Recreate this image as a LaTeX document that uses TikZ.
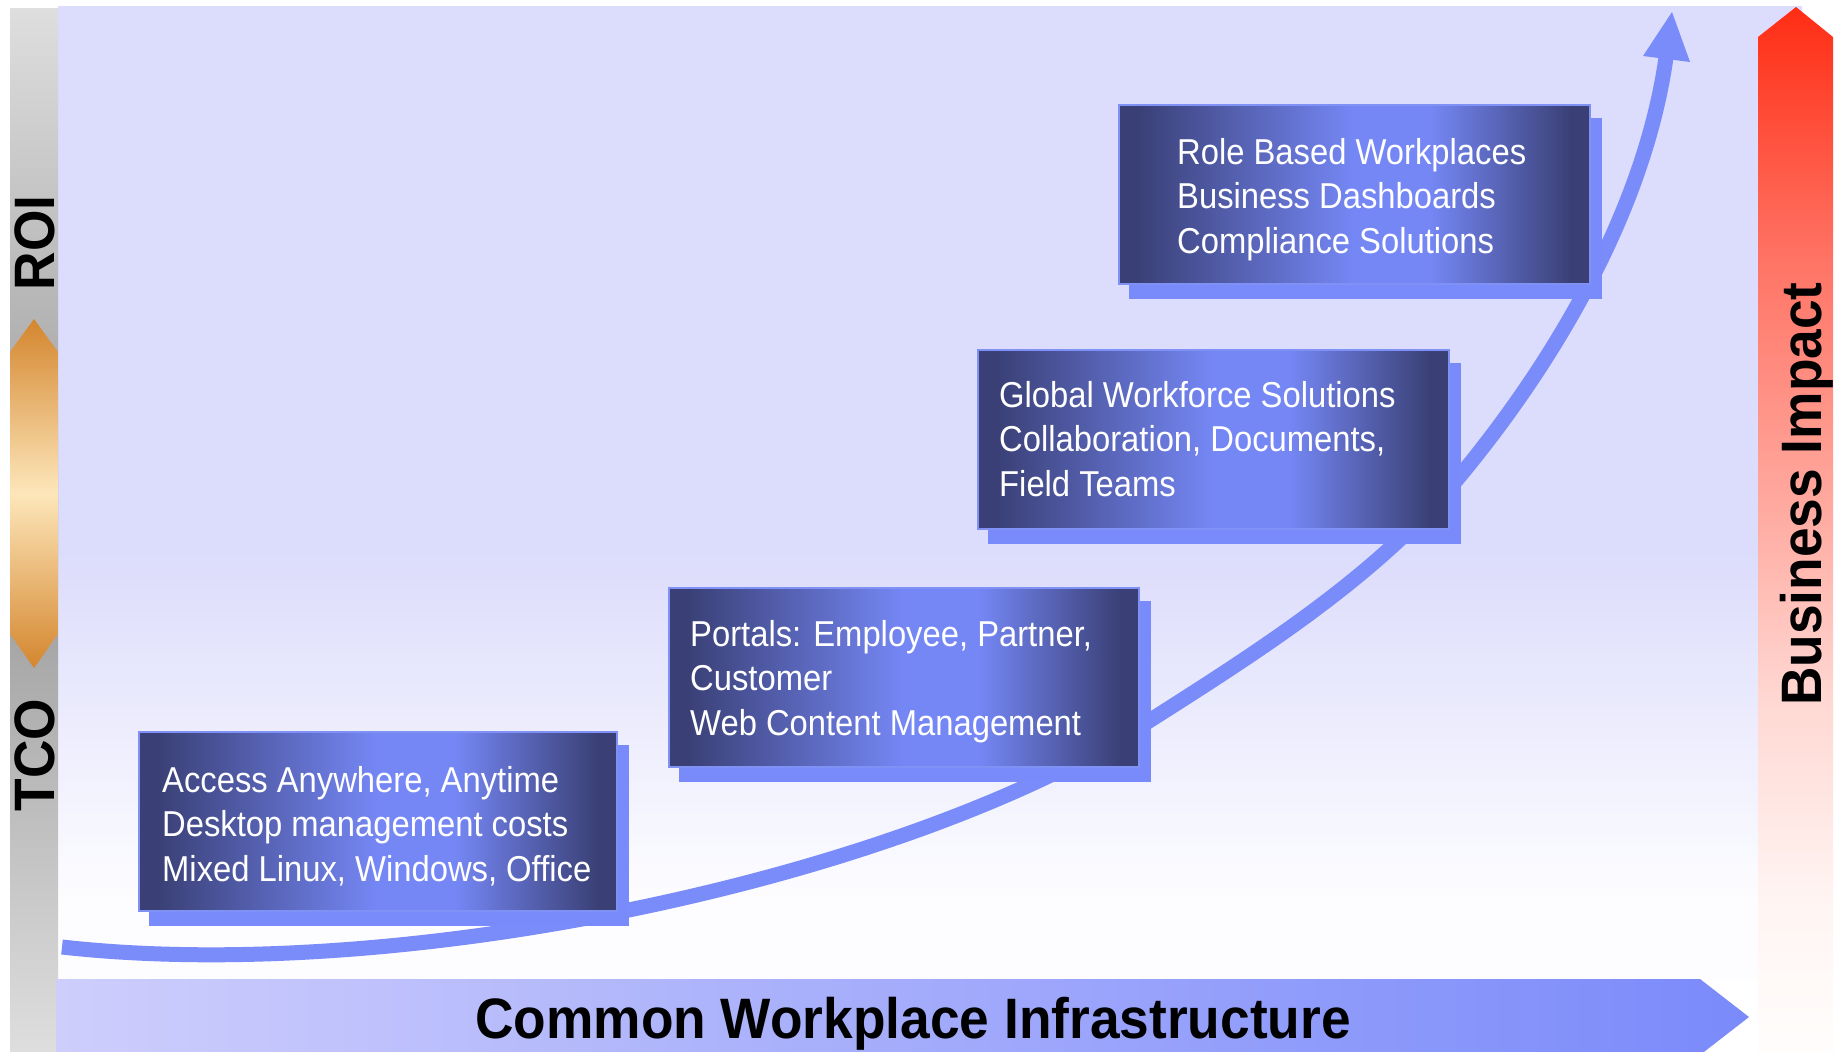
\documentclass[tikz,border=0pt]{standalone}
\usepackage{fontspec}
\setmainfont{Liberation Sans}[FakeStretch=0.91]
\newfontfamily\labelfont{Liberation Sans}[FakeStretch=0.935]
\usetikzlibrary{calc}
\definecolor{lav}{RGB}{220,220,252}
\definecolor{nearwhite}{RGB}{253,253,255}
\definecolor{bdark}{RGB}{58,64,118}
\definecolor{blight}{RGB}{117,135,245}
\definecolor{bord}{RGB}{128,145,245}
\definecolor{shad}{RGB}{121,138,250}
\definecolor{curvec}{RGB}{122,139,250}
\definecolor{arrL}{RGB}{206,206,252}
\definecolor{arrR}{RGB}{122,138,250}
\definecolor{grayL}{RGB}{222,222,222}
\definecolor{grayD}{RGB}{152,152,152}
\definecolor{orng}{RGB}{212,134,46}
\definecolor{pale}{RGB}{253,230,186}
\definecolor{rA}{RGB}{255,253,252}
\definecolor{rB}{RGB}{255,245,243}
\definecolor{rC}{RGB}{255,215,210}
\definecolor{rD}{RGB}{255,170,160}
\definecolor{rE}{RGB}{255,115,100}
\definecolor{rF}{RGB}{255,45,20}
\pgfdeclarehorizontalshading{boxshade}{100bp}{color(0bp)=(bdark); color(27bp)=(bdark); color(50bp)=(blight); color(58bp)=(blight); color(73bp)=(bdark); color(100bp)=(bdark)}
\pgfdeclareverticalshading{panelshade}{100bp}{color(0bp)=(nearwhite); color(29bp)=(nearwhite); color(47bp)=(lav); color(100bp)=(lav)}
\pgfdeclareverticalshading{redshade}{100bp}{color(0bp)=(rA); color(25bp)=(rA); color(32bp)=(rB); color(42bp)=(rC); color(51bp)=(rD); color(63bp)=(rE); color(75bp)=(rF); color(100bp)=(rF)}
\pgfdeclarelayer{bglayer}
\pgfdeclarelayer{shadowlayer}
\pgfsetlayers{bglayer,shadowlayer,main}
\tikzset{
  infobox/.style={rectangle, draw=bord, line width=1.5pt, shade, shading=boxshade,
    minimum width=#1, minimum height=179pt, inner sep=0pt, anchor=north west},
  boxtext/.style={anchor=base west, align=left, text=white, inner sep=0pt,
    font=\fontsize{36}{44.5}\selectfont},
  biglabel/.style={inner sep=0pt, font=\fontsize{57}{60}\labelfont\bfseries, text=black},
  shadowfill/.style={fill=shad},
  curvearrow/.style={draw=curvec, line width=15pt},
}
\begin{document}
\begin{tikzpicture}[x=1pt,y=-1pt]
\useasboundingbox (0,0) rectangle (1839,1052);
\begin{pgfonlayer}{bglayer}
\fill[white] (0,0) rectangle (1839,1052);
% background panel
\shade[shading=panelshade] (58,6) rectangle (1802,980);
% left gray bar and ROI/TCO double arrow
\shade[top color=grayL, bottom color=grayL, middle color=grayD] (10,8) rectangle (58,1052);
\shade[top color=orng, bottom color=orng, middle color=pale]
  (34,319) -- (58,352) -- (58,634) -- (34,668) -- (10,634) -- (10,352) -- cycle;
% right red arrow
\shade[shading=redshade] (1758,1052) -- (1758,37) -- (1796,7) -- (1833,37) -- (1833,1052) -- cycle;
% bottom arrow
\shade[left color=arrL, right color=arrR]
  (56,979) -- (1700,979) -- (1749,1017) -- (1700,1055) -- (56,1055) -- cycle;
% growth curve
\coordinate (c0) at (62,947);
\coordinate (c1) at (1149,721);
\coordinate (c2) at (1459,477);
\coordinate (c3) at (1667,50);
\draw[curvearrow] (c0) .. controls (400,985) and (900,880) .. (c1)
  .. controls (1259,651) and (1376,577) .. (c2)
  .. controls (1561,354) and (1648,200) .. (c3);
\coordinate (h1) at (1643,56);
\coordinate (h2) at (1672,12);
\coordinate (h3) at (1690,62);
\fill[curvec] (h1) -- (h2) -- (h3) -- cycle;
\end{pgfonlayer}

% boxes
\node[infobox=478pt] (b1) at (138,731) {};
\node[infobox=470pt] (b2) at (668,587) {};
\node[infobox=471pt] (b3) at (977,349) {};
\node[infobox=471pt] (b4) at (1118,104) {};
\begin{pgfonlayer}{shadowlayer}
\foreach \b in {b1,b2,b3,b4}{
  \fill[shadowfill] ($(\b.north west)+(11,14)$) rectangle ($(\b.south east)+(11,14)$);
}
\end{pgfonlayer}

% box texts (anchored at the baseline of the last line)
\node[boxtext] (t1) at (162,881) {Access Anywhere, Anytime\\Desktop management costs\\Mixed Linux, Windows, Office};
\node[boxtext] (t2) at (690,735) {Portals: Employee, Partner,\\Customer\\Web Content Management};
\node[boxtext] (t3) at (999,496) {Global Workforce Solutions\\Collaboration, Documents,\\Field Teams};
\node[boxtext] (t4) at (1177,253) {Role Based Workplaces\\Business Dashboards\\Compliance Solutions};

% labels
\node[biglabel, rotate=90] (roi) at (35,243) {ROI};
\node[biglabel, rotate=90] (tco) at (35,755) {TCO};
\node[biglabel, rotate=90] (bizimp) at (1807,494) {Business Impact};
\node[biglabel, anchor=base] (cwi) at (913,1038) {Common Workplace Infrastructure};
\end{tikzpicture}
\end{document}
